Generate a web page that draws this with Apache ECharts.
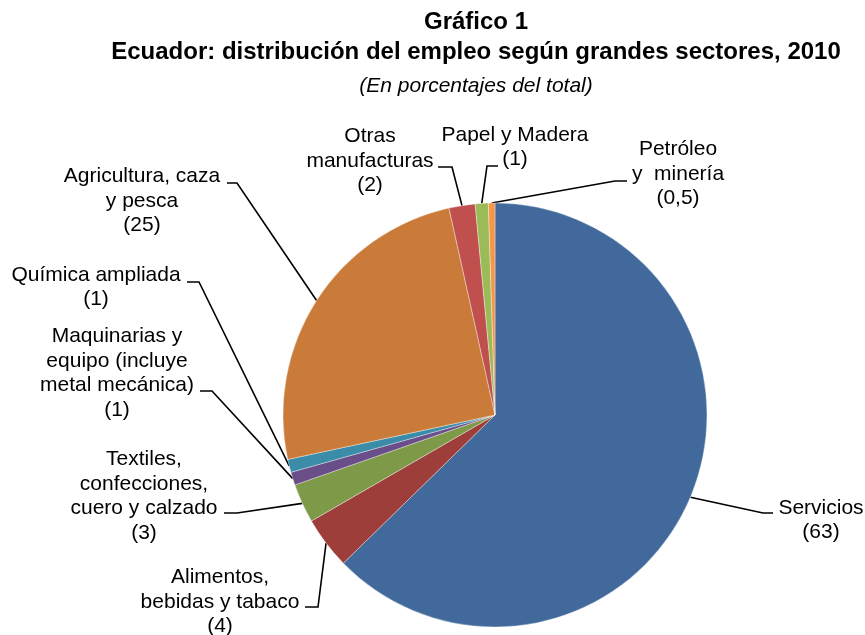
<!DOCTYPE html>
<html>
<head>
<meta charset="utf-8">
<title>Gráfico 1</title>
<script src="https://cdn.jsdelivr.net/npm/echarts@6/dist/echarts.min.js"></script>
<style>
    html, body { margin: 0; padding: 0; background: #fff; }
    #chart { width: 865px; height: 635px; }
</style>
</head>
<body>
<div id="chart"></div>
<script>
    // sectores, en el orden del gráfico (sentido horario desde arriba)
    var sectores = [
        'Servicios',
        'Alimentos,\nbebidas y tabaco',
        'Textiles,\nconfecciones,\ncuero y calzado',
        'Maquinarias y\nequipo (incluye\nmetal mecánica)',
        'Química ampliada',
        'Agricultura, caza\ny pesca',
        'Otras\nmanufacturas',
        'Papel y Madera',
        'Petróleo\ny  minería'
    ];
    var porcentajes = [63, 4, 3, 1, 1, 25, 2, 1, 0.5];
    var colores = ['#41699B', '#9D3E3B', '#7E9A49', '#6A4E89', '#3B8CA9', '#CB7B39', '#C0504D', '#9BBB59', '#F79646'];

    // ubicación de cada etiqueta: centro del texto, codo y fin de la línea guía
    var etiquetas = [
        { x: 821, y: 520, codo: [763, 513], fin: [773, 513] },
        { x: 220, y: 602, codo: [318, 607], fin: [305, 607] },
        { x: 144, y: 496, codo: [237, 513], fin: [224, 513] },
        { x: 117, y: 373, codo: [212, 391], fin: [200, 391] },
        { x: 96,  y: 287, codo: [199, 282], fin: [187, 282] },
        { x: 142, y: 201, codo: [237, 183], fin: [227, 183] },
        { x: 370, y: 161, codo: [452, 167], fin: [438, 167] },
        { x: 515, y: 147, codo: [487, 166], fin: [498, 166] },
        { x: 678, y: 174, codo: [615, 181], fin: [627, 181] }
    ];

    var datos = [];
    for (var i = 0; i < sectores.length; i++) {
        datos.push({
            name: sectores[i],
            value: porcentajes[i],
            itemStyle: { color: colores[i] }
        });
    }

    var myChart = echarts.init(document.getElementById('chart'));
    var option = {
        backgroundColor: '#fff',
        animation: false,
        textStyle: { fontFamily: 'Liberation Sans, Arial, sans-serif' },
        title: [{
            text: 'Gráfico 1\nEcuador: distribución del empleo según grandes sectores, 2010',
            left: 471,
            top: 2,
            textAlign: 'center',
            textStyle: {
                fontSize: 24,
                fontWeight: 'bold',
                lineHeight: 30,
                color: '#000',
                fontFamily: 'Liberation Sans, Arial, sans-serif'
            }
        }, {
            text: '(En porcentajes del total)',
            left: 471,
            top: 71,
            textAlign: 'center',
            textStyle: {
                fontSize: 21,
                fontWeight: 'normal',
                fontStyle: 'italic',
                color: '#000',
                fontFamily: 'Liberation Sans, Arial, sans-serif'
            }
        }],
        series: [{
            type: 'pie',
            center: [495, 415],
            radius: 212,
            startAngle: 90,
            clockwise: true,
            avoidLabelOverlap: false,
            itemStyle: { borderColor: 'rgba(255,255,255,0.6)', borderWidth: 0.6 },
            label: {
                show: true,
                position: 'outside',
                color: '#000',
                fontSize: 21,
                lineHeight: 24.5,
                fontFamily: 'Liberation Sans, Arial, sans-serif',
                formatter: function (p) {
                    return p.name + '\n(' + String(p.value).replace('.', ',') + ')';
                }
            },
            labelLine: {
                show: true,
                length: 10,
                length2: 10,
                lineStyle: { color: '#000', width: 1.6 }
            },
            labelLayout: function (params) {
                var e = etiquetas[params.dataIndex];
                var inicio = params.labelLinePoints ? params.labelLinePoints[0] : e.codo;
                return {
                    x: e.x,
                    y: e.y,
                    align: 'center',
                    verticalAlign: 'middle',
                    labelLinePoints: [inicio, e.codo, e.fin]
                };
            },
            data: datos
        }]
    };
    myChart.setOption(option);
</script>
</body>
</html>
